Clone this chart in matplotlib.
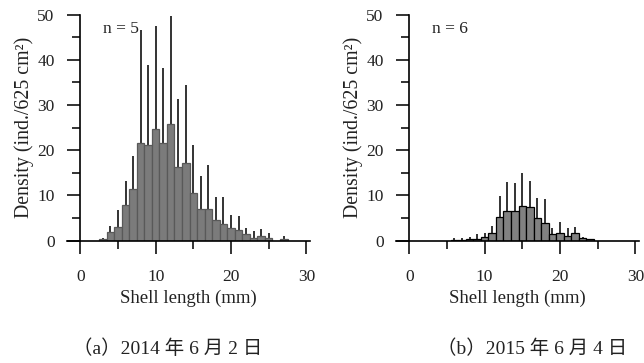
import numpy as np
import matplotlib
matplotlib.use("Agg")
import matplotlib.pyplot as plt
from matplotlib.ticker import MultipleLocator

plt.rcParams['font.family'] = ['Liberation Serif', 'Noto Sans CJK SC']

# 2014-06-02 (n = 5)
len_a = [3, 4, 5, 6, 7, 8, 9, 10, 11, 12, 13, 14, 15, 16, 17, 18, 19, 20, 21, 22, 23, 24, 25, 26, 27]
dens_a = [0.3, 2.0, 3.0, 8.0, 11.4, 21.6, 21.2, 24.6, 21.5, 25.9, 16.2, 17.1, 10.6, 7.0, 7.0,
          4.6, 3.6, 2.8, 2.4, 1.4, 0.7, 1.1, 0.6, 0.0, 0.4]
top_a = [0.7, 3.3, 6.8, 13.1, 18.8, 46.6, 38.8, 47.6, 38.3, 49.8, 31.3, 34.4, 21.2, 14.3, 16.7,
         9.6, 9.7, 5.7, 5.5, 2.8, 2.1, 2.5, 1.6, 0.0, 1.0]

# 2015-06-04 (n = 6)
len_b = [6, 7, 8, 9, 10, 11, 12, 13, 14, 15, 16, 17, 18, 19, 20, 21, 22, 23, 24]
dens_b = [0.1, 0.2, 0.3, 0.45, 0.8, 1.8, 5.2, 6.6, 6.6, 7.7, 7.4, 5.1, 3.8, 1.4, 1.8, 1.0, 1.6, 0.6, 0.3]
top_b = [0.6, 0.65, 0.9, 1.4, 1.8, 3.2, 9.9, 12.9, 12.8, 14.9, 13.3, 9.4, 9.2, 2.7, 4.1, 2.7, 3.0, 0.8, 0.3]

panels = [
    (len_a, dens_a, top_a, "n = 5", "（a）2014 年 6 月 2 日", '#7b7b7b', '#595959', 0.1036, 0.260),
    (len_b, dens_b, top_b, "n = 6", "（b）2015 年 6 月 4 日", '#818181', '#000000', 0.6144, 0.826),
]

fig = plt.figure(figsize=(6.44, 3.63), dpi=100)

for x, d, top, ntext, caption, fc, ec, left, cap_x in panels:
    ax = fig.add_axes([left, 0.337, 0.378, 0.6226])
    x = np.array(x)
    d = np.array(d)
    top = np.array(top)
    # error bars drawn upward only
    ax.vlines(x, d, top, colors='#111111', linewidth=1.2, zorder=1)
    ax.bar(x, d, width=1.0, color=fc, edgecolor=ec, linewidth=0.9, zorder=2)

    ax.set_xlim(-1.8, 30.5)
    ax.set_ylim(0, 50)
    ax.spines['top'].set_visible(False)
    ax.spines['right'].set_visible(False)
    ax.spines['left'].set_position(('data', 0))
    ax.spines['left'].set_linewidth(1.2)
    ax.spines['bottom'].set_linewidth(1.2)

    ax.xaxis.set_major_locator(MultipleLocator(10))
    ax.xaxis.set_minor_locator(MultipleLocator(5))
    ax.yaxis.set_major_locator(MultipleLocator(10))
    ax.yaxis.set_minor_locator(MultipleLocator(5))
    ax.tick_params(which='major', direction='out', length=9.5, width=1.2,
                   labelsize=12.5, color='#111111')
    ax.tick_params(which='minor', direction='out', length=5.5, width=1.2, color='#111111')
    ax.tick_params(axis='x', which='major', pad=11)
    ax.tick_params(axis='y', which='major', pad=9)
    for lab in ax.get_xticklabels() + ax.get_yticklabels():
        lab.set_color('#222222')

    ax.set_xlabel("Shell length (mm)", fontsize=13.5, labelpad=3, color='#222222')
    ax.set_ylabel("Density (ind./625 cm²)", fontsize=14.3, labelpad=2, color='#222222')
    ax.text(3.0, 46.8, ntext, fontsize=12.5, va='center', ha='left', color='#222222')

    fig.text(cap_x, 0.04, caption, fontsize=14, ha='center', va='center', color='#222222')

fig.savefig("out.png", dpi=100)
